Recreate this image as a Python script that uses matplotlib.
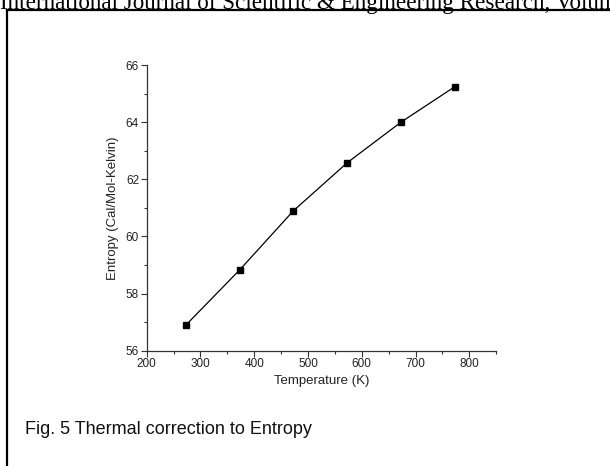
import matplotlib
matplotlib.use('Agg')
import matplotlib.pyplot as plt
from matplotlib.ticker import MultipleLocator
from matplotlib.lines import Line2D

plt.rcParams['font.family'] = ['Liberation Sans', 'DejaVu Sans']

temperature = [273, 373, 473, 573, 673, 773]
entropy = [56.90, 58.83, 60.90, 62.58, 64.00, 65.24]

fig = plt.figure(figsize=(6.1, 4.66), dpi=100)
ax = fig.add_axes([0.2405, 0.2474, 0.5729, 0.6131])

ax.plot(temperature, entropy, '-', color='black', lw=0.9,
        marker='s', markersize=5, markerfacecolor='black', markeredgecolor='black')

ax.set_xlim(200, 850)
ax.set_ylim(56, 66)
ax.set_xticks([200, 300, 400, 500, 600, 700, 800])
ax.set_yticks([56, 58, 60, 62, 64, 66])
ax.xaxis.set_minor_locator(MultipleLocator(50))
ax.yaxis.set_minor_locator(MultipleLocator(1))

for s in ['top', 'right']:
    ax.spines[s].set_visible(False)
for s in ['left', 'bottom']:
    ax.spines[s].set_linewidth(0.9)
    ax.spines[s].set_color('#333333')

ax.tick_params(which='major', direction='out', length=4, width=0.8,
               labelsize=8.5, pad=1.5, colors='#333333', labelcolor='#222222')
ax.tick_params(which='minor', direction='out', length=2.5, width=0.8, colors='#333333')

ax.set_xlabel('Temperature (K)', fontsize=9.5, labelpad=3, color='#222222')
ax.set_ylabel('Entropy (Cal/Mol-Kelvin)', fontsize=9.5, labelpad=5, color='#222222')

# page frame (left edge and top rule)
fig.add_artist(Line2D([7 / 610, 7 / 610], [0, 1 - 10 / 466], transform=fig.transFigure,
                      color='black', lw=1.6))
fig.add_artist(Line2D([7 / 610, 1], [1 - 10 / 466, 1 - 10 / 466], transform=fig.transFigure,
                      color='black', lw=1.6))

# journal header, cut at top of page
fig.text(0.0, 1 - 8.5 / 466, 'International Journal of Scientific & Engineering Research, Volume',
         family='Liberation Serif', fontsize=16.7, va='baseline', ha='left', color='black')

fig.text(25 / 610, 1 - 430 / 466, 'Fig. 5 Thermal correction to Entropy',
         fontsize=13, va='center', ha='left', color='#111111')

fig.savefig('out.png', dpi=100)
